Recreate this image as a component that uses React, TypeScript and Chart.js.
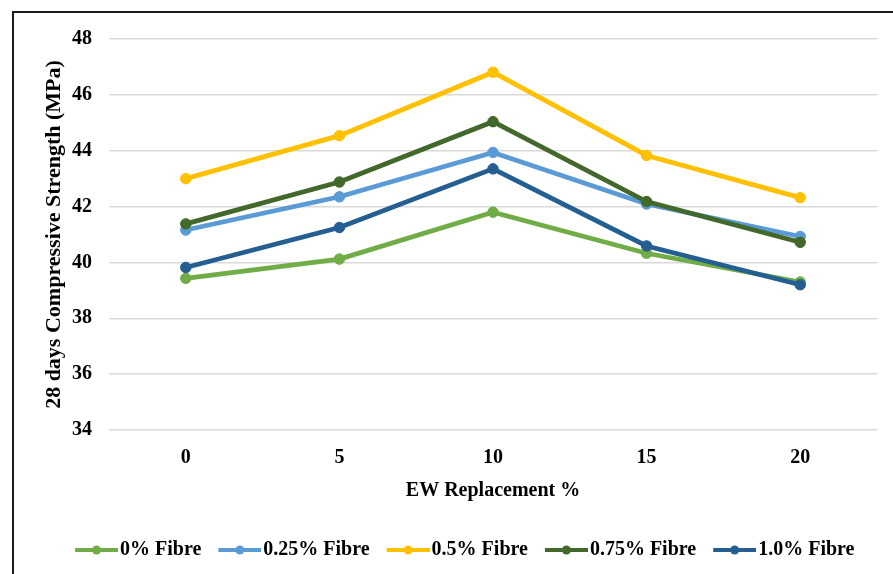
import React, { useEffect, useRef } from "react";
import { Chart, registerables } from "chart.js";

Chart.register(...registerables);

// ---- data ----
const categories = ["0", "5", "10", "15", "20"];
const fibre0 = [39.43, 40.12, 41.8, 40.33, 39.3];
const fibre025 = [41.16, 42.35, 43.94, 42.09, 40.93];
const fibre05 = [43.0, 44.54, 46.81, 43.83, 42.32];
const fibre075 = [41.38, 42.88, 45.04, 42.18, 40.72];
const fibre10 = [39.82, 41.25, 43.35, 40.59, 39.2];
const seriesNames = ["0% Fibre", "0.25% Fibre", "0.5% Fibre", "0.75% Fibre", "1.0% Fibre"];
const seriesValues = [fibre0, fibre025, fibre05, fibre075, fibre10];
const seriesColors = ["#70AD47", "#5B9BD5", "#FFC000", "#43682B", "#255E91"];
const yMin = 34;
const yMax = 48;
const yStep = 2;
const xTitle = "EW Replacement %";
const yTitle = "28 days Compressive Strength (MPa)";

const FONT = "'Liberation Serif', 'Times New Roman', serif";

// legend marker: transparent image 64 wide, line segment of 43px at the right part
function makeMarker(color: string): HTMLCanvasElement {
  const c = document.createElement("canvas");
  c.width = 64;
  c.height = 20;
  const ctx = c.getContext("2d")!;
  ctx.strokeStyle = color;
  ctx.lineWidth = 4;
  ctx.beginPath();
  ctx.moveTo(21, 10);
  ctx.lineTo(64, 10);
  ctx.stroke();
  ctx.fillStyle = color;
  ctx.beginPath();
  ctx.arc(42.5, 10, 4.5, 0, Math.PI * 2);
  ctx.fill();
  return c;
}

export default function App() {
  const ref = useRef<HTMLCanvasElement | null>(null);

  useEffect(() => {
    if (!ref.current) return;
    const markers = seriesColors.map(makeMarker);
    const n = seriesNames.length;
    const chart = new Chart(ref.current, {
      type: "line",
      data: {
        labels: categories,
        datasets: seriesNames.map((name, i) => ({
          label: name,
          data: seriesValues[i],
          borderColor: seriesColors[i],
          backgroundColor: seriesColors[i],
          borderWidth: 4.75,
          pointRadius: 5.25,
          pointBorderWidth: 1,
          pointBackgroundColor: seriesColors[i],
          pointBorderColor: seriesColors[i],
          tension: 0,
          fill: false,
          order: n - 1 - i,
        })),
      },
      options: {
        responsive: false,
        animation: false,
        devicePixelRatio: 1,
        layout: { padding: { left: 39.5, right: 16, top: 39, bottom: 4 } },
        plugins: {
          tooltip: { enabled: false },
          legend: {
            display: true,
            position: "bottom",
            labels: {
              usePointStyle: true,
              pointStyleWidth: 48,
              padding: 4,
              color: "#000",
              font: { family: FONT, size: 20, weight: "bold" },
              generateLabels: (ch: any) => {
                const items = (Chart.defaults as any).plugins.legend.labels.generateLabels(ch);
                items.sort((a: any, b: any) => a.datasetIndex - b.datasetIndex);
                return items.map((it: any) => ({
                  ...it,
                  pointStyle: markers[it.datasetIndex],
                  fontColor: "#000",
                }));
              },
            },
          },
        },
        scales: {
          x: {
            type: "category",
            offset: true,
            grid: { display: false, drawTicks: false },
            border: { display: false },
            ticks: {
              color: "#000",
              padding: 16,
              font: { family: FONT, size: 20, weight: "bold" },
            },
            title: {
              display: true,
              text: xTitle,
              color: "#000",
              font: { family: FONT, size: 20, weight: "bold" },
              padding: { top: 0, bottom: 33 },
            },
            afterFit: (s: any) => {
              s.height = 106;
            },
          },
          y: {
            type: "linear",
            min: yMin,
            max: yMax,
            grid: { color: "#d9d9d9", lineWidth: 1.5, drawTicks: false },
            border: { display: false },
            ticks: {
              stepSize: yStep,
              color: "#000",
              padding: 17,
              font: { family: FONT, size: 20, weight: "bold" },
            },
            title: {
              display: true,
              text: yTitle,
              color: "#000",
              font: { family: FONT, size: 22, weight: "bold" },
              padding: { top: 1.3, bottom: 0 },
            },
            afterFit: (s: any) => {
              s.width = 69.5;
            },
          },
        },
      },
    });
    return () => chart.destroy();
  }, []);

  return (
    <div
      style={{
        position: "fixed",
        left: 0,
        top: 0,
        width: 893,
        height: 574,
        overflow: "hidden",
        background: "#fff",
      }}
    >
      <canvas ref={ref} width={893} height={574} style={{ display: "block" }} />
      <div
        style={{
          position: "absolute",
          left: 12,
          top: 11,
          width: 1000,
          height: 1000,
          border: "2px solid #1a1a1a",
          pointerEvents: "none",
        }}
      />
    </div>
  );
}
